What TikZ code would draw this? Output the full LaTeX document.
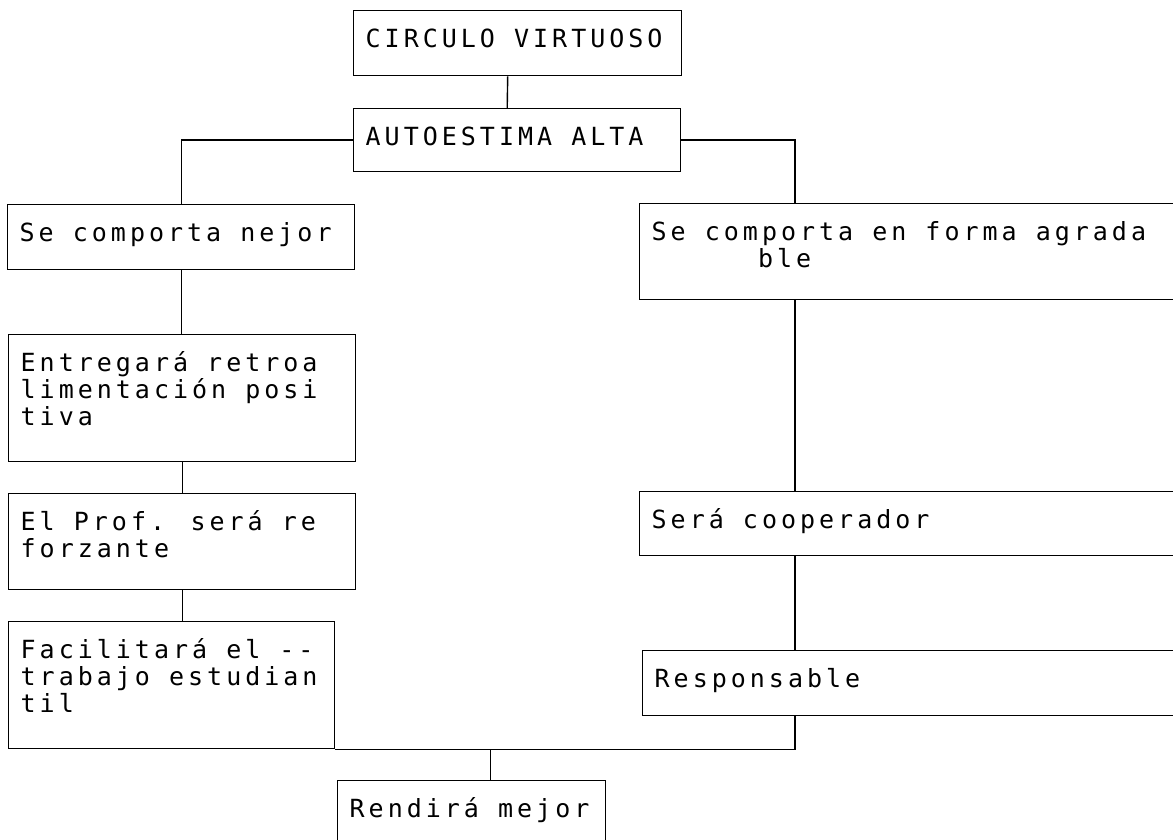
\documentclass[tikz,border=0pt]{standalone}
\usepackage{fontspec}
\newfontfamily\matriz[LetterSpace=16]{DejaVu Sans Mono}
% box contents: width, height (in px), lines
\newcommand{\contenido}[3]{\parbox[c][\dimexpr#2pt/2\relax][t]{\dimexpr#1pt/2\relax}{\leftskip=6pt\baselineskip=13.5pt\rule{0pt}{18.5pt}#3}}

\begin{document}
\begin{tikzpicture}[x=0.5pt, y=-0.5pt, line width=0.7pt,
        caja/.style={draw, anchor=north west, inner sep=0pt,
                font=\matriz\fontsize{12.5pt}{13.5pt}\selectfont}]
        \path [use as bounding box] (0,0) rectangle (1173,840);
        \clip (0,0) rectangle (1173,840);
        % Draw boxes
        \node [caja] (circ) at (353,10) {\contenido{328}{65}{CIRCULO VIRTUOSO}};
        \node [caja] (auto) at (353,108) {\contenido{327}{63}{AUTOESTIMA ALTA}};
        \node [caja] (comp) at (7,204) {\contenido{347}{65}{Se comporta nejor}};
        \node [caja] (agra) at (639,203) {\contenido{640}{96}{Se comporta en forma agrada\\\phantom{Se com}ble}};
        \node [caja] (entr) at (8,334) {\contenido{347}{127}{Entregará retroa\\limentación posi\\tiva}};
        \node [caja] (prof) at (8,493) {\contenido{347}{96}{El Prof. será re\\forzante}};
        \node [caja] (faci) at (8,621) {\contenido{326}{127}{Facilitará el -{}-\\trabajo estudian\\til}};
        \node [caja] (coop) at (639,491) {\contenido{640}{64}{Será cooperador}};
        \node [caja] (resp) at (642,650) {\contenido{640}{65}{Responsable}};
        \node [caja] (rend) at (337,780) {\contenido{268}{100}{Rendirá mejor}};
        \coordinate (colder) at (795,0);
        % Draw connectors
        \draw ([xshift=-5pt]circ.south) -- ([xshift=-5pt]auto.north);
        \draw (auto.west) -| (comp.north);
        \draw (auto.east) -| (colder |- agra.north);
        \draw (comp.south) -- (comp.south |- entr.north);
        \draw (entr.south) -- (entr.south |- prof.north);
        \draw (prof.south) -- (prof.south |- faci.north);
        \draw (colder |- agra.south) -- (colder |- coop.north);
        \draw (colder |- coop.south) -- (colder |- resp.north);
        \draw (colder |- resp.south) |- (faci.south east);
        \draw ([xshift=9.5pt]rend.north) -- ([xshift=9.5pt]rend.north |- faci.south);
\end{tikzpicture}
\end{document}
